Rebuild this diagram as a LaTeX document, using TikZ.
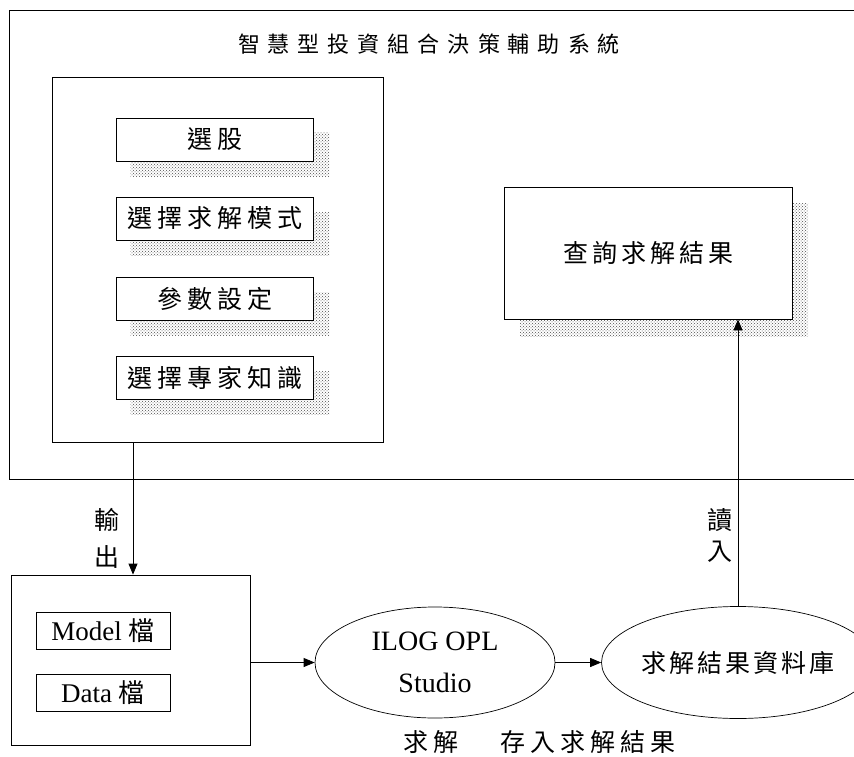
\documentclass[tikz,border=0pt]{standalone}
\usepackage{fontspec}
\setmainfont{Liberation Serif}
\newfontfamily\cjk{Noto Sans CJK TC}
\usetikzlibrary{arrows.meta,patterns,shapes.geometric}

% spaced CJK text: \spread{gap}{characters}
\newlength\cgap
\def\spread#1#2{\setlength\cgap{#1}\spreadA#2\relax}
\def\spreadA#1{#1\spreadB}
\def\spreadB#1{\ifx#1\relax\else\kern\cgap#1\expandafter\spreadB\fi}

\tikzset{
  box/.style={draw, line width=0.8pt, fill=white, inner sep=0pt, rectangle},
  shadowbox/.style={pattern=crosshatch dots, pattern color=black!70, draw=none},
  oval/.style={draw, line width=0.7pt, ellipse, inner sep=0pt, fill=white},
  arr/.style={line width=0.8pt, -{Triangle[length=11pt,width=9pt]}},
  zh/.style={font=\cjk\fontsize{25}{29}\selectfont, inner sep=0pt},
}

\begin{document}
\begin{tikzpicture}[x=1pt, y=-1pt]
\useasboundingbox (0,0) rectangle (854,757);
\clip (0,0) rectangle (854,757);

% outer system frame (open to the right)
\node[box, minimum width=891pt, minimum height=469pt] (sys) at (454.5,244.5) {};
\node[inner sep=0pt, font=\cjk\fontsize{22}{26}\selectfont] (title) at (429,44) {\spread{8pt}{智慧型投資組合決策輔助系統}};

% left panel with the four functions
\node[box, minimum width=331pt, minimum height=365pt] (panel) at (217.5,259.5) {};

\foreach \yy in {139.5,218.5,298.5,377.5}
  \fill[shadowbox] (130.5,{\yy-6.5}) rectangle (329.5,{\yy+37});
\node[box, minimum width=197pt, minimum height=43pt, zh] (f1) at (214.5,139.5) {\spread{5pt}{選股}};
\node[box, minimum width=197pt, minimum height=43pt, zh] (f2) at (214.5,218.5) {\spread{5pt}{選擇求解模式}};
\node[box, minimum width=197pt, minimum height=43pt, zh] (f3) at (214.5,298.5) {\spread{5pt}{參數設定}};
\node[box, minimum width=197pt, minimum height=43pt, zh] (f4) at (214.5,377.5) {\spread{5pt}{選擇專家知識}};

% query box
\fill[shadowbox] (520,203) rectangle (808,336);
\node[box, minimum width=288pt, minimum height=132pt, zh] (query) at (648,253) {\spread{4pt}{查詢求解結果}};

% file box
\node[box, minimum width=239pt, minimum height=170pt] (files) at (131,660) {};
\node[box, minimum width=134pt, minimum height=37pt, font=\fontsize{27}{31}\selectfont] (model) at (103,630.5) {Model {\cjk\fontsize{26}{30}\selectfont 檔}};
\node[box, minimum width=134pt, minimum height=37pt, font=\fontsize{27}{31}\selectfont] (data) at (103,692.5) {Data {\cjk\fontsize{26}{30}\selectfont 檔}};

% solver and result database
\node[oval, minimum width=240pt, minimum height=111pt, align=center, font=\fontsize{28}{42}\selectfont] (opl) at (435,662.5) {ILOG OPL\\Studio};
\node[oval, minimum width=232pt, minimum height=112pt, zh] (db) at (738,662.5) {\spread{3pt}{求解結果資料庫}};

% connectors
\draw[arr] ([xshift=-84.5pt]panel.south) -- ([xshift=2pt]files.north);
\draw[arr] (files.east |- opl.west) -- (opl.west);
\draw[arr] (opl.east) -- (db.west);
\draw[arr] (db.north) -- (db.north |- query.south);

% labels
\node[zh] (lout1) at (107,520) {輸};
\node[zh] (lout2) at (107,557) {出};
\node[zh] (lin1) at (720,520) {讀};
\node[zh] (lin2) at (720,552) {入};
\node[zh] (lsolve) at (431,742) {\spread{5pt}{求解}};
\node[zh] (lstore) at (588,742) {\spread{5pt}{存入求解結果}};
\end{tikzpicture}
\end{document}
